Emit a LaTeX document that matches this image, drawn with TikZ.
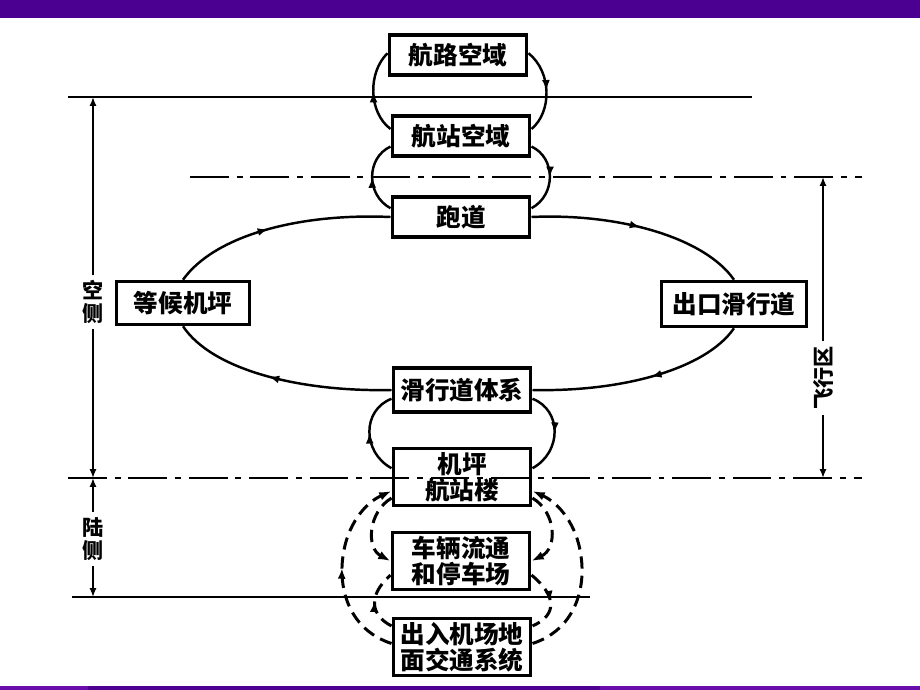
\documentclass[tikz,border=0pt]{standalone}
\usepackage{fontspec}
\newfontfamily\cjk{Noto Sans CJK SC}
\usetikzlibrary{arrows.meta,decorations.markings}
\definecolor{barpurple}{HTML}{4B0091}
\definecolor{barlight}{HTML}{6A0DAD}
\tikzset{
  areabox/.style={draw,line width=2pt,minimum width=2.75cm,minimum height=0.8cm,
    inner sep=2pt,align=center,font=\cjk\bfseries\fontsize{14}{15}\selectfont},
  sidelabel/.style={inner sep=3pt,align=center,font=\cjk\bfseries\fontsize{12}{13}\selectfont},
  flow/.style={line width=1.4pt},
  ground/.style={line width=1.7pt,dash pattern=on 7pt off 4pt},
  border/.style={line width=1.6pt},
  dashdot/.style={line width=1.6pt,dash pattern=on 22pt off 4.5pt on 3.4pt off 4.5pt},
  dim/.style={line width=1.5pt,-{Latex[length=5pt,width=4pt]}},
  tipend/.style={-{Latex[length=7pt,width=5pt]}},
  midarrow/.style={postaction={decorate},
    decoration={markings,mark=at position #1 with {\arrow{Latex[length=6pt,width=4.5pt]}}}},
  midarrow/.default=0.5
}
\begin{document}
\begin{tikzpicture}[x=0.02cm,y=-0.02cm]
  \useasboundingbox (0,0) rectangle (920,690);

  % Bars
  \fill[barpurple] (0,0) rectangle (920,18);
  \fill[barpurple] (0,686) rectangle (920,690);
  \fill[barlight] (0,686) rectangle (88,690);
  \fill[barlight] (600,686) rectangle (920,690);

  % Boundaries
  \draw[border] (68,97) -- (752,97);
  \draw[dashdot] (190,177) -- (862,177);
  \draw[dashdot] (68,478) -- (862,478);
  \draw[border] (72,597) -- (590,597);

  % Areas
  \node[areabox] (hanglu) at (458,55) {航路空域};
  \node[areabox] (hangzhan) at (461,136) {航站空域};
  \node[areabox] (paodao) at (461,217) {跑道};
  \node[areabox,minimum width=2.66cm,minimum height=0.86cm] (denghou) at (183,303) {等候机坪};
  \node[areabox,minimum width=2.9cm,minimum height=0.9cm] (chukou) at (734,304) {出口滑行道};
  \node[areabox,minimum height=0.88cm] (huaxing) at (462,390) {滑行道体系};
  \node[areabox] (jiping) at (462,477) {机坪\\航站楼};
  \node[areabox] (cheliang) at (461,561) {车辆流通\\和停车场};
  \node[areabox] (churu) at (462,647) {出入机场地\\面交通系统};

  % Airside loop
  \draw[flow,midarrow=0.45] (denghou.north) .. controls (215,235) and (300,213) .. (paodao.west);
  \draw[flow,midarrow=0.5] (paodao.east) .. controls (620,213) and (705,238) .. (chukou.north);
  \draw[flow,midarrow=0.45] (chukou.south) .. controls (705,370) and (620,392) .. (huaxing.east);
  \draw[flow,midarrow=0.55] (huaxing.west) .. controls (300,392) and (212,370) .. (denghou.south);

  % Airspace links
  \draw[flow,midarrow] ([yshift=4pt]hangzhan.west) .. controls (368,112) and (368,72) .. ([yshift=1pt]hanglu.west);
  \draw[flow,midarrow] ([yshift=1pt]hanglu.east) .. controls (552,72) and (552,112) .. ([yshift=4pt]hangzhan.east);
  \draw[flow,midarrow] ([yshift=5pt]paodao.west) .. controls (366,195) and (366,158) .. ([yshift=-6pt]hangzhan.west);
  \draw[flow,midarrow] ([yshift=-6pt]hangzhan.east) .. controls (556,158) and (556,195) .. ([yshift=5pt]paodao.east);

  % Apron links
  \draw[flow,midarrow] ([yshift=5pt]jiping.west) .. controls (362,452) and (362,410) .. ([yshift=-5pt]huaxing.west);
  \draw[flow,midarrow] ([yshift=-5pt]huaxing.east) .. controls (562,410) and (562,452) .. ([yshift=5pt]jiping.east);

  % Landside links
  \draw[ground,tipend,midarrow=0.5] ([yshift=2pt]churu.west) .. controls (350,630) and (338,590) .. (343,556)
    .. controls (347,525) and (365,503) .. ([yshift=-8pt]jiping.west);
  \draw[ground,tipend] ([yshift=2pt]churu.east) .. controls (574,630) and (586,590) .. (581,556)
    .. controls (577,525) and (559,503) .. ([yshift=-8pt]jiping.east);
  \draw[ground,tipend] ([yshift=-12pt]jiping.west) .. controls (368,512) and (366,548) .. (cheliang.west);
  \draw[ground,tipend] ([yshift=-12pt]jiping.east) .. controls (556,512) and (558,548) .. (cheliang.east);
  \draw[ground,midarrow] ([yshift=12pt]churu.west) .. controls (370,615) and (368,595) .. ([yshift=-8pt]cheliang.west);
  \draw[ground,midarrow] ([yshift=-8pt]cheliang.east) .. controls (556,595) and (558,615) .. ([yshift=12pt]churu.east);

  % Sides
  \node[sidelabel] (kongce) at (93,302) {空\\侧};
  \node[sidelabel] (luce) at (93,539) {陆\\侧};
  \node[sidelabel,rotate=90] (feixing) at (823,378) {飞行区};
  \coordinate (ktop) at (93,97);
  \coordinate (kmid) at (93,478);
  \coordinate (lbot) at (93,597);
  \coordinate (ftop) at (823,177);
  \coordinate (fbot) at (823,478);
  \draw[dim] (kongce.north) -- (ktop);
  \draw[dim] (kongce.south) -- (kmid);
  \draw[dim] (luce.north) -- (kmid);
  \draw[dim] (luce.south) -- (lbot);
  \draw[dim] (feixing.east) -- (ftop);
  \draw[dim] (feixing.west) -- (fbot);
\end{tikzpicture}
\end{document}
